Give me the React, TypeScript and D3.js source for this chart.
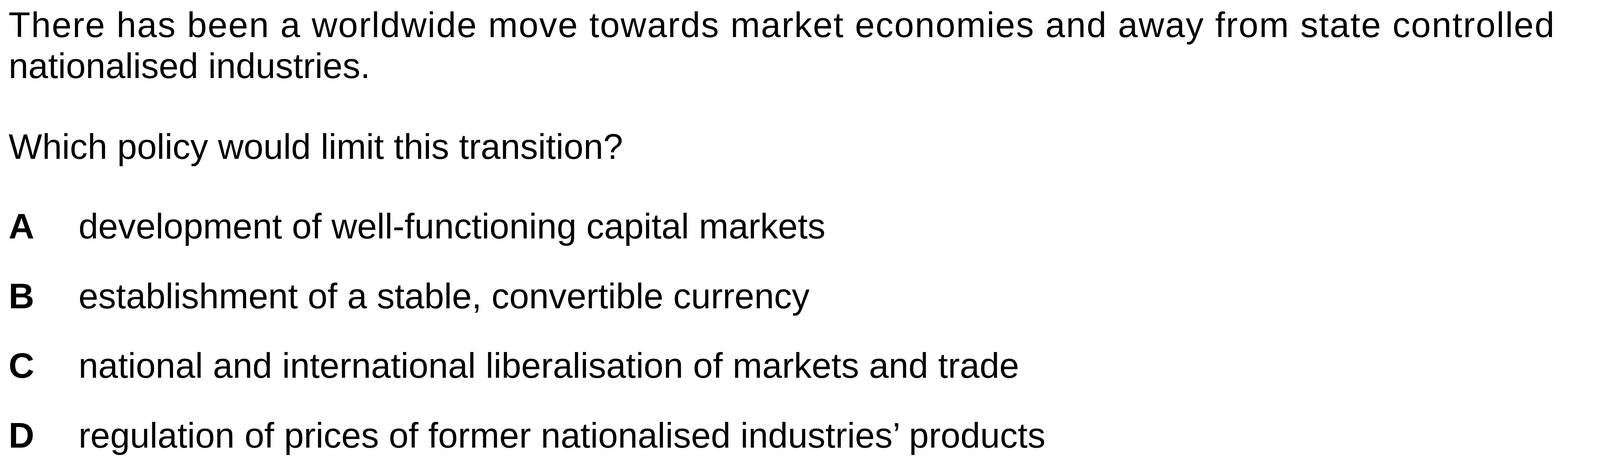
import React from "react";
import * as d3 from "d3";

const stemLines = [
  "There has been a worldwide move towards market economies and away from state controlled",
  "nationalised industries.",
];
const question = "Which policy would limit this transition?";
const optionKeys = ["A", "B", "C", "D"];
const optionTexts = [
  "development of well-functioning capital markets",
  "establishment of a stable, convertible currency",
  "national and international liberalisation of markets and trade",
  "regulation of prices of former nationalised industries\u2019 products",
];

const W = 4201;
const H = 1189;
const font = "'Liberation Sans', Arial, sans-serif";
const size = 91;

const App: React.FC = () => {
  const stemY = d3.scaleLinear().domain([0, 1]).range([95, 200]);
  const optY = d3.scaleLinear().domain([0, 3]).range([611, 1147]);
  return (
    <svg
      width={W}
      height={H}
      style={{ position: "absolute", left: 0, top: 0, background: "#fff" }}
      fontFamily={font}
      fontSize={size}
      fill="#000"
    >
      {stemLines.map((t, i) => (
        <text
          key={i}
          x={22}
          y={stemY(i)}
          textLength={i === 0 ? 3957 : undefined}
          lengthAdjust="spacing"
        >
          {t}
        </text>
      ))}
      <text x={22} y={407}>{question}</text>
      {optionKeys.map((k, i) => (
        <g key={k}>
          <text x={22} y={optY(i)} fontWeight="bold">{k}</text>
          <text x={201} y={optY(i)}>{optionTexts[i]}</text>
        </g>
      ))}
    </svg>
  );
};

export default App;
